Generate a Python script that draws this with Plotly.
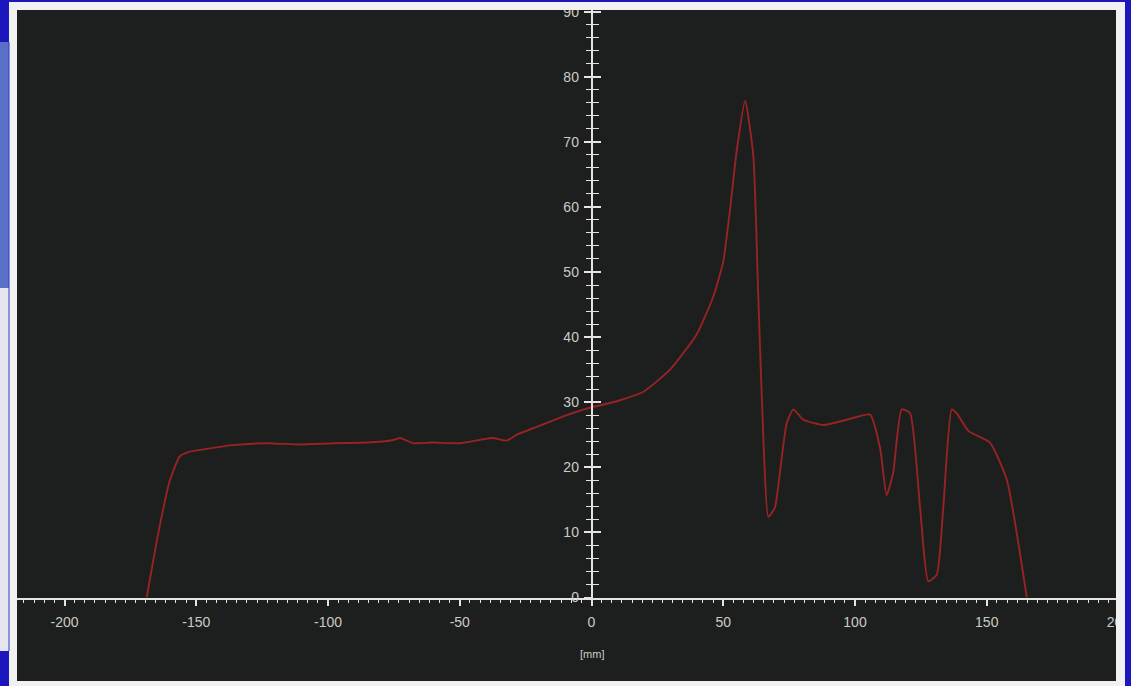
import plotly.graph_objects as go

# ---------------- data ----------------
position_mm = [-168.8, -164.4, -160.0, -156.2, -152.4, -144.8, -136.2, -123.3, -110.6,
               -98.1, -85.3, -75.2, -72.7, -70.1, -67.6, -60.2, -49.9, -41.1, -37.3,
               -32.2, -28.4, -22.1, -9.4, 0.7, 3.2, 10.8, 19.7, 29.8, 39.9, 46.2, 50.0,
               52.6, 55.1, 58.3, 61.4, 63.3, 65.2, 67.1, 69.6, 71.5, 74.1, 76.6, 80.4,
               88.0, 96.9, 105.7, 109.5, 112.0, 114.5, 117.7, 120.9, 124.7, 127.8, 131.0,
               133.5, 136.7, 138.6, 143.0, 151.2, 157.6, 165.2]
profile_value = [0.0, 9.9, 18.0, 21.7, 22.4, 22.9, 23.4, 23.7, 23.5,
                 23.7, 23.8, 24.2, 24.5, 24.1, 23.7, 23.8, 23.7, 24.3, 24.5,
                 24.1, 25.0, 26.0, 28.0, 29.3, 29.5, 30.3, 31.6, 35.0, 40.4, 46.2, 51.6,
                 59.7, 68.6, 76.3, 67.9, 46.2, 24.6, 12.4, 13.8, 19.2, 26.8, 28.9, 27.3,
                 26.5, 27.3, 28.1, 23.0, 15.7, 19.2, 28.9, 28.3, 13.8, 2.5, 3.5,
                 13.8, 28.9, 28.3, 25.6, 23.8, 18.1, 0.0]

x_tick_vals = [-200, -150, -100, -50, 0, 50, 100, 150, 200]
x_tick_text = ["-200", "-150", "-100", "-50", "0", "50", "100", "150", "200"]
y_tick_vals = [0, 10, 20, 30, 40, 50, 60, 70, 80, 90]
y_tick_text = ["0", "10", "20", "30", "40", "50", "60", "70", "80", "90"]
x_unit_label = "[mm]"

# ---------------- geometry / style ----------------
W, H = 1131, 686
BLUE = "#1b16bd"
FRAME = "#f1f1f1"
PANEL = "#1c1f1e"
AXIS = "#e4e4e4"
TEXT = "#cbcbc6"
LINE = "#982325"
FONT = "Liberation Sans, Arial, sans-serif"

def fx(p):
    return p / W

def fy(p):
    return 1 - p / H

# pixel layout of the dark panel and the axes crossing
PANEL_L, PANEL_R, PANEL_T, PANEL_B = 17, 1116, 10, 681
AXIS_R = 1124          # x axis runs under the right frame so the 200 label is clipped
ZERO_X_PX, ZERO_Y_PX = 591.5, 597.5
PX_PER_MM, PX_PER_UNIT = 2.635, 6.51

x_range = [(PANEL_L - ZERO_X_PX) / PX_PER_MM, (AXIS_R - ZERO_X_PX) / PX_PER_MM]
y_range = [0, (ZERO_Y_PX - PANEL_T) / PX_PER_UNIT]

minor_step = 50 / 13
x_minor = [round(i * minor_step, 4) for i in range(-57, 53) if i % 13 != 0]
y_minor = [v for v in range(2, 90, 2) if v % 10 != 0]

fig = go.Figure()
fig.add_trace(go.Scatter(x=position_mm, y=profile_value, mode="lines",
                         line=dict(color=LINE, width=1.9, shape="spline", smoothing=0.5),
                         hoverinfo="skip", showlegend=False))
# helper trace so the overlay y axis (crossing ticks) is drawn
fig.add_trace(go.Scatter(x=[], y=[], xaxis="x", yaxis="y2", showlegend=False,
                         hoverinfo="skip"))

shapes = [
    dict(type="rect", xref="paper", yref="paper", x0=fx(9), x1=fx(1125), y0=fy(686), y1=fy(2),
         fillcolor=FRAME, line=dict(width=0), layer="below"),
    dict(type="rect", xref="paper", yref="paper", x0=fx(0), x1=fx(9), y0=fy(288), y1=fy(42),
         fillcolor="#5a6fc6", line=dict(width=0), layer="below"),
    dict(type="rect", xref="paper", yref="paper", x0=fx(0), x1=fx(9), y0=fy(651), y1=fy(288),
         fillcolor="#e3e6ef", line=dict(width=0), layer="below"),
    dict(type="line", xref="paper", yref="paper", x0=fx(9), x1=fx(9), y0=fy(651), y1=fy(42),
         line=dict(color="#3434cc", width=1), layer="below"),
    dict(type="rect", xref="paper", yref="paper", x0=fx(PANEL_L), x1=fx(PANEL_R),
         y0=fy(PANEL_B), y1=fy(PANEL_T), fillcolor=PANEL, line=dict(width=0), layer="below"),
    dict(type="rect", xref="paper", yref="paper", x0=fx(9), x1=fx(1125), y0=fy(PANEL_T), y1=fy(2),
         fillcolor=FRAME, line=dict(width=0), layer="above"),
    dict(type="rect", xref="paper", yref="paper", x0=fx(0), x1=fx(W), y0=fy(2), y1=fy(0),
         fillcolor=BLUE, line=dict(width=0), layer="above"),
    dict(type="rect", xref="paper", yref="paper", x0=fx(PANEL_R), x1=fx(1125), y0=fy(686), y1=fy(2),
         fillcolor=FRAME, line=dict(width=0), layer="above"),
    dict(type="rect", xref="paper", yref="paper", x0=fx(1125), x1=fx(W), y0=fy(686), y1=fy(0),
         fillcolor=BLUE, line=dict(width=0), layer="above"),
]

y_pos = fx(ZERO_X_PX)

fig.update_layout(
    width=W, height=H, margin=dict(l=0, r=0, t=0, b=0, pad=0, autoexpand=False),
    paper_bgcolor=BLUE, plot_bgcolor="rgba(0,0,0,0)",
    showlegend=False, shapes=shapes,
    font=dict(family=FONT, color=TEXT, size=14),
    xaxis=dict(domain=[fx(PANEL_L), fx(AXIS_R)], range=x_range, anchor="y", side="bottom",
               automargin=False,
               showgrid=False, zeroline=False, showline=True, linecolor=AXIS, linewidth=1.5,
               tickmode="array", tickvals=x_tick_vals, ticktext=x_tick_text,
               ticks="outside", ticklen=7, tickwidth=1.5, tickcolor=AXIS,
               ticklabelstandoff=4, tickfont=dict(family=FONT, size=14, color=TEXT),
               minor=dict(tickmode="array", tickvals=x_minor, ticks="outside", ticklen=4,
                          tickwidth=1.3, tickcolor=AXIS, showgrid=False)),
    yaxis=dict(domain=[fy(ZERO_Y_PX), fy(PANEL_T)], range=y_range, anchor="free",
               position=y_pos, side="left", automargin=False,
               showgrid=False, zeroline=False, showline=True, linecolor=AXIS, linewidth=1.5,
               tickmode="array", tickvals=y_tick_vals, ticktext=y_tick_text,
               ticks="outside", ticklen=7, tickwidth=1.5, tickcolor=AXIS,
               ticklabelstandoff=2, tickfont=dict(family=FONT, size=14, color=TEXT),
               minor=dict(tickmode="array", tickvals=y_minor, ticks="outside", ticklen=5,
                          tickwidth=1.3, tickcolor=AXIS, showgrid=False)),
    yaxis2=dict(overlaying="y", range=y_range, anchor="free", position=y_pos, side="left",
                automargin=False,
                showgrid=False, zeroline=False, showline=False, showticklabels=False,
                tickmode="array", tickvals=y_tick_vals,
                ticks="inside", ticklen=8, tickwidth=1.5, tickcolor=AXIS,
                minor=dict(tickmode="array", tickvals=y_minor, ticks="inside", ticklen=6,
                           tickwidth=1.3, tickcolor=AXIS, showgrid=False)),
    annotations=[dict(text=x_unit_label, xref="x", yref="paper", x=0, y=fy(662),
                      showarrow=False, font=dict(family=FONT, size=11, color=TEXT))],
)

fig.write_html("out.html", config={"displayModeBar": False},
               post_script="document.body.style.margin='0';")
